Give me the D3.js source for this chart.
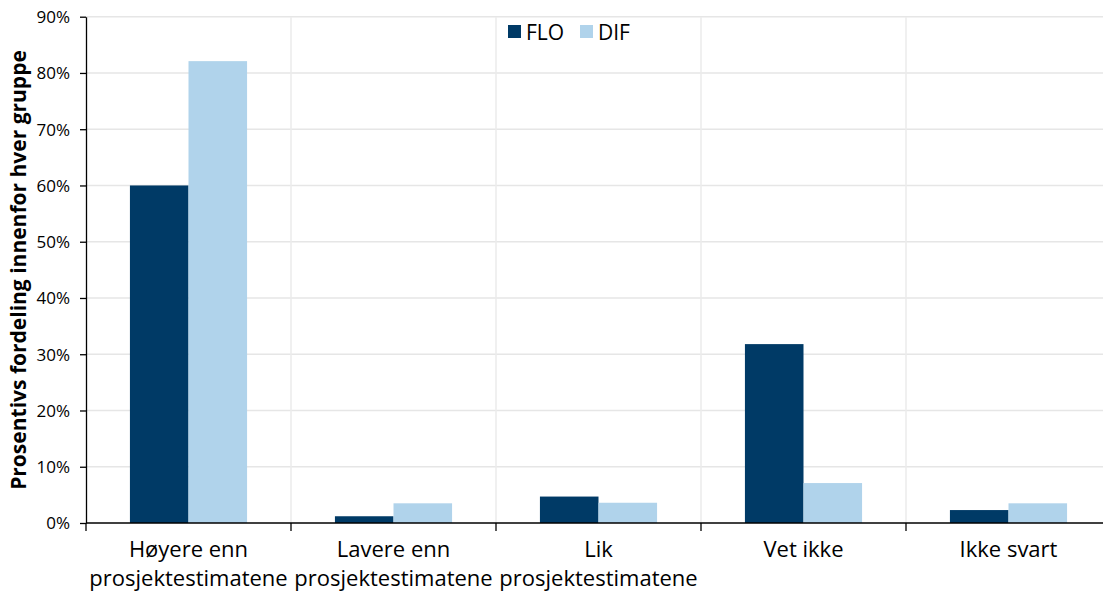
<!DOCTYPE html>
<html><head><meta charset="utf-8">
<script src="https://cdn.jsdelivr.net/npm/d3@7"></script>
<style>body{margin:0;background:#fff}svg{display:block}text{font-family:"Open Sans",sans-serif;fill:#000}</style>
</head><body><svg id="c" width="1103" height="592"></svg>
<script>
const categories = [["Høyere enn","prosjektestimatene"],["Lavere enn","prosjektestimatene"],["Lik","prosjektestimatene"],["Vet ikke"],["Ikke svart"]];
const seriesNames = ["FLO","DIF"];
const floValues = [0.60, 0.012, 0.047, 0.318, 0.023];
const difValues = [0.821, 0.035, 0.036, 0.071, 0.035];
const yTicks = [0,0.1,0.2,0.3,0.4,0.5,0.6,0.7,0.8,0.9];
const colors = ["#003A66","#B0D3EB"];

(function(){
const svg = d3.select("#c");
const mLeft = 86, mTop = 16.7, mBottom = 523, catW = 205;
const x = d3.scaleBand().domain(d3.range(5)).range([mLeft, mLeft + catW*5]).padding(0);
const y = d3.scaleLinear().domain([0,0.9]).range([mBottom, mTop]);
const xs = d3.scaleBand().domain(seriesNames).range([0, x.bandwidth()]).paddingOuter(0.75).paddingInner(0);

// grid
svg.append("g").selectAll("line").data(yTicks.slice(1)).join("line")
  .attr("x1", mLeft).attr("x2", 1103).attr("y1", d=>y(d)).attr("y2", d=>y(d))
  .attr("stroke","#E6E6E6").attr("stroke-width",1.5);
svg.append("g").selectAll("line").data(d3.range(1,5)).join("line")
  .attr("x1", d=>x(d)).attr("x2", d=>x(d)).attr("y1", mTop).attr("y2", mBottom)
  .attr("stroke","#EBEBEB").attr("stroke-width",1.5);

// bars
const data = seriesNames.map((s,i)=>({s, vals: i===0?floValues:difValues, c: colors[i]}));
data.forEach(d=>{
  svg.append("g").selectAll("rect").data(d.vals).join("rect")
    .attr("x",(v,i)=>x(i)+xs(d.s)).attr("width",xs.bandwidth())
    .attr("y",v=>y(v)).attr("height",v=>mBottom-y(v)).attr("fill",d.c);
});

// y axis
const ya = svg.append("g").attr("transform",`translate(${mLeft},0)`)
  .call(d3.axisLeft(y).tickValues(yTicks).tickFormat(d3.format(".0%")).tickSize(6).tickSizeOuter(0));
ya.select(".domain").attr("stroke","#000").attr("stroke-width",1.3);
ya.selectAll(".tick line").attr("stroke","#000").attr("stroke-width",1.3);
ya.selectAll(".tick text").attr("x",-16).attr("dy","0.35em").style("font-size","17px").attr("font-family","'Open Sans',sans-serif").attr("fill","#000");

// x axis
svg.append("line").attr("x1",mLeft).attr("x2",1103).attr("y1",mBottom).attr("y2",mBottom).attr("stroke","#000").attr("stroke-width",1.5);
svg.append("g").selectAll("line").data(d3.range(0,5)).join("line")
  .attr("x1",d=>x(d)).attr("x2",d=>x(d)).attr("y1",mBottom).attr("y2",mBottom+8).attr("stroke","#000").attr("stroke-width",1.3);
const lab = svg.append("g").selectAll("text").data(categories).join("text")
  .attr("x",(d,i)=>x(i)+x.bandwidth()/2).attr("y",557).attr("text-anchor","middle").style("font-size","22px");
lab.selectAll("tspan").data(d=>d).join("tspan").attr("x",function(){return this.parentNode.getAttribute("x");})
  .attr("dy",(d,i)=>i===0?0:28.5).text(d=>d);

// y title
svg.append("text").attr("transform","translate(26,270) rotate(-90)").attr("text-anchor","middle")
  .style("font-size","21px").style("font-weight","bold").text("Prosentivs fordeling innenfor hver gruppe");

// legend
const lg = svg.append("g");
const lx = [508, 580];
seriesNames.forEach((s,i)=>{
  lg.append("rect").attr("x",lx[i]).attr("y",25).attr("width",13).attr("height",13).attr("fill",colors[i]);
  lg.append("text").attr("x",lx[i]+18).attr("y",39.5).style("font-size","21px").text(s);
});
})();
</script></body></html>
